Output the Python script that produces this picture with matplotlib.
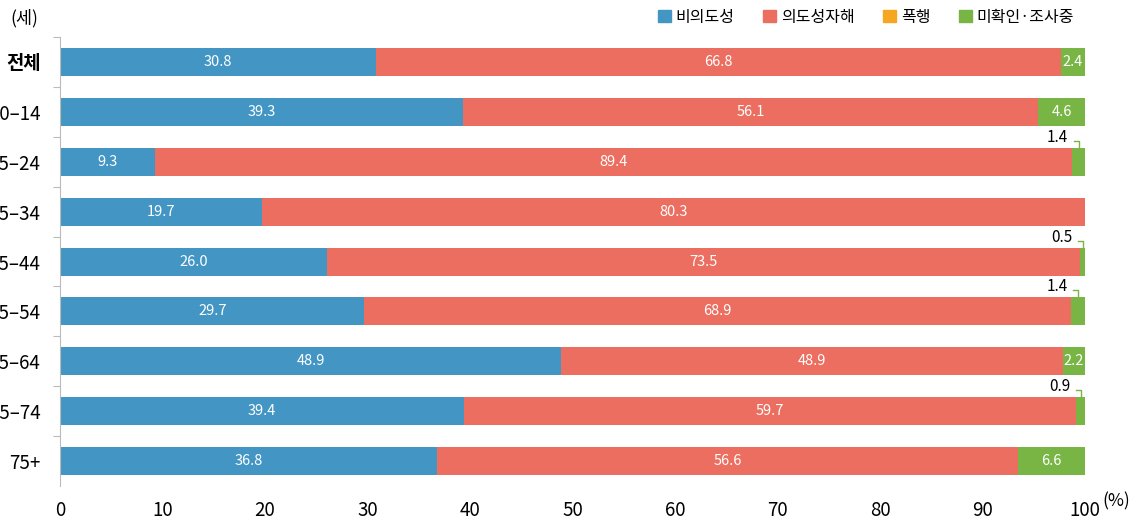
import numpy as np
import matplotlib
matplotlib.use('Agg')
import matplotlib.pyplot as plt
from matplotlib.patches import Patch

plt.rcParams['font.family'] = ['Noto Sans CJK KR', 'DejaVu Sans']

categories = ['전체', '10–14', '15–24', '25–34', '35–44', '45–54', '55–64', '65–74', '75+']
unintended = [30.8, 39.3, 9.3, 19.7, 26.0, 29.7, 48.9, 39.4, 36.8]
self_harm = [66.8, 56.1, 89.4, 80.3, 73.5, 68.9, 48.9, 59.7, 56.6]
assault = [0, 0, 0, 0, 0, 0, 0, 0, 0]
unknown = [2.4, 4.6, 1.4, 0, 0.5, 1.4, 2.2, 0.9, 6.6]
series_names = ['비의도성', '의도성자해', '폭행', '미확인·조사중']
colors = ['#4396c4', '#ec6e60', '#f5a623', '#78b544']

fig = plt.figure(figsize=(11.4, 5.21), dpi=100)
ax = fig.add_axes([0.0526, 0.067, 0.8994, 0.862])

y = np.arange(len(categories))
h = 0.56
series = [unintended, self_harm, assault, unknown]
left = np.zeros(len(categories))
for vals, col in zip(series, colors):
    vals = np.array(vals)
    ax.barh(y, vals, left=left, height=h, color=col, linewidth=0)
    for i, v in enumerate(vals):
        if v >= 2:
            ax.text(left[i] + v / 2, y[i], f'{v:.1f}', ha='center', va='center',
                    color='white', fontsize=10.5)
        elif v > 0:
            # small share: label above the bar with a little hook
            xm = left[i] + v / 2
            top = y[i] - h / 2
            ax.plot([xm - 0.5, xm, xm], [top - 0.14, top - 0.14, top],
                    color=col, lw=1)
            ax.text(99.6 - v / 2 - 0.6, top - 0.04, f'{v:.1f}', ha='right',
                    va='bottom', color='black', fontsize=11)
    left += vals

ax.set_xlim(0, 100)
ax.set_ylim(len(categories) - 0.5, -0.5)
ax.set_yticks(y)
ax.set_yticklabels(categories, fontsize=13.5)
ax.get_yticklabels()[0].set_fontweight('bold')
ax.set_yticks(np.arange(len(categories)) - 0.5, minor=True)
ax.tick_params(axis='y', which='major', length=0, pad=14)
ax.tick_params(axis='y', which='minor', length=5, color='#bbbbbb', width=0.8)
ax.set_xticks(np.arange(0, 101, 10))
ax.set_xticklabels([str(t) for t in range(0, 101, 10)], fontsize=13.5)
ax.tick_params(axis='x', length=0, pad=10)
for s in ['top', 'right', 'bottom']:
    ax.spines[s].set_visible(False)
ax.spines['left'].set_color('#bbbbbb')
ax.spines['left'].set_linewidth(0.8)

fig.text(1102 / 1140, 1 - 501 / 521, '(%)', fontsize=12.5, va='center', ha='left')
fig.text(24 / 1140, 1 - 18 / 521, '(세)', fontsize=12.5, va='center', ha='center')

handles = [Patch(color=c) for c in colors]
ax.legend(handles, series_names, loc='lower right', bbox_to_anchor=(1.0, 1.0),
          ncol=4, frameon=False, fontsize=11.5, handlelength=0.8, handleheight=0.8,
          handletextpad=0.3, columnspacing=1.8, borderaxespad=0.3)

fig.savefig('out.png', dpi=100)
